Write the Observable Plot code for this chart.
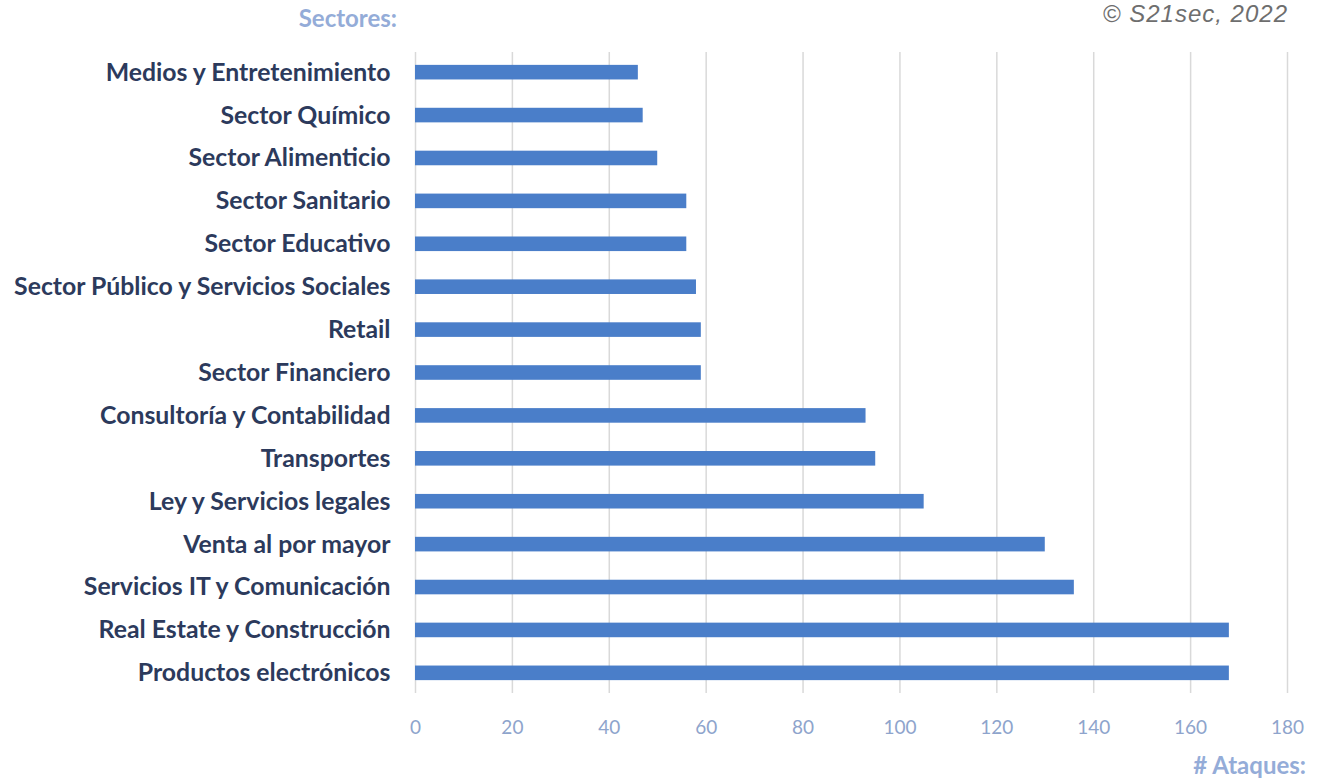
<!DOCTYPE html>
<html>
<head>
<meta charset="utf-8">
<script src="https://cdn.jsdelivr.net/npm/d3@7"></script>
<script src="https://cdn.jsdelivr.net/npm/@observablehq/plot@0.6"></script>
<style>
  html, body { margin: 0; padding: 0; background: #ffffff; }
  #wrap { position: relative; width: 1317px; height: 778px; overflow: hidden; }
  .note { position: absolute; white-space: nowrap; line-height: 30px; }
  #ylab { right: calc(1317px - 397px); top: 3px; font: bold 24px Lato, sans-serif; color: #94acd8; }
  #copy { right: calc(1317px - 1288px); top: 0px; font: italic 24px/28px "Liberation Sans", Arial, sans-serif; letter-spacing: 1px; color: #6e6e6e; }
  #xlab { right: calc(1317px - 1306px); top: 750px; font: bold 24px Lato, sans-serif; color: #94acd8; }
</style>
</head>
<body>
<div id="wrap">
  <div class="note" id="ylab">Sectores:</div>
  <div class="note" id="copy">© S21sec, 2022</div>
  <div class="note" id="xlab"># Ataques:</div>
</div>
<script>
// Sectors, listed top to bottom
const sectores = [
  "Medios y Entretenimiento",
  "Sector Químico",
  "Sector Alimenticio",
  "Sector Sanitario",
  "Sector Educativo",
  "Sector Público y Servicios Sociales",
  "Retail",
  "Sector Financiero",
  "Consultoría y Contabilidad",
  "Transportes",
  "Ley y Servicios legales",
  "Venta al por mayor",
  "Servicios IT y Comunicación",
  "Real Estate y Construcción",
  "Productos electrónicos"
];
// Number of attacks per sector
const ataques = [46, 47, 50, 56, 56, 58, 59, 59, 93, 95, 105, 130, 136, 168, 168];
// X axis ticks
const xTicks = [0, 20, 40, 60, 80, 100, 120, 140, 160, 180];

const data = sectores.map((s, i) => ({sector: s, ataques: ataques[i]}));

const chart = Plot.plot({
  width: 1317,
  height: 778,
  marginTop: 52,
  marginBottom: 85,
  marginLeft: 415,
  marginRight: 30,
  style: {background: "transparent", overflow: "visible"},
  x: {domain: [0, 180], ticks: xTicks, label: null},
  y: {domain: sectores, label: null, paddingInner: 0.66, paddingOuter: 0.3, round: false},
  marks: [
    Plot.ruleX(xTicks, {stroke: "#d9d9d9", strokeWidth: 1.5}),
    Plot.barX(data, {x: "ataques", y: "sector", fill: "#4a7ec9"}),
    Plot.axisX({
      ticks: xTicks, tickSize: 0, tickPadding: 27, label: null,
      fontSize: 19, fontFamily: "Lato, sans-serif", fill: "#8ea4cc"
    }),
    Plot.axisY({
      tickSize: 0, tickPadding: 25, label: null,
      fontSize: 24.8, fontWeight: "bold", fontFamily: "Lato, sans-serif", fill: "#2c3a5c"
    })
  ]
});
chart.style.position = "absolute";
chart.style.left = "0px";
chart.style.top = "0px";
document.getElementById("wrap").prepend(chart);
</script>
</body>
</html>
